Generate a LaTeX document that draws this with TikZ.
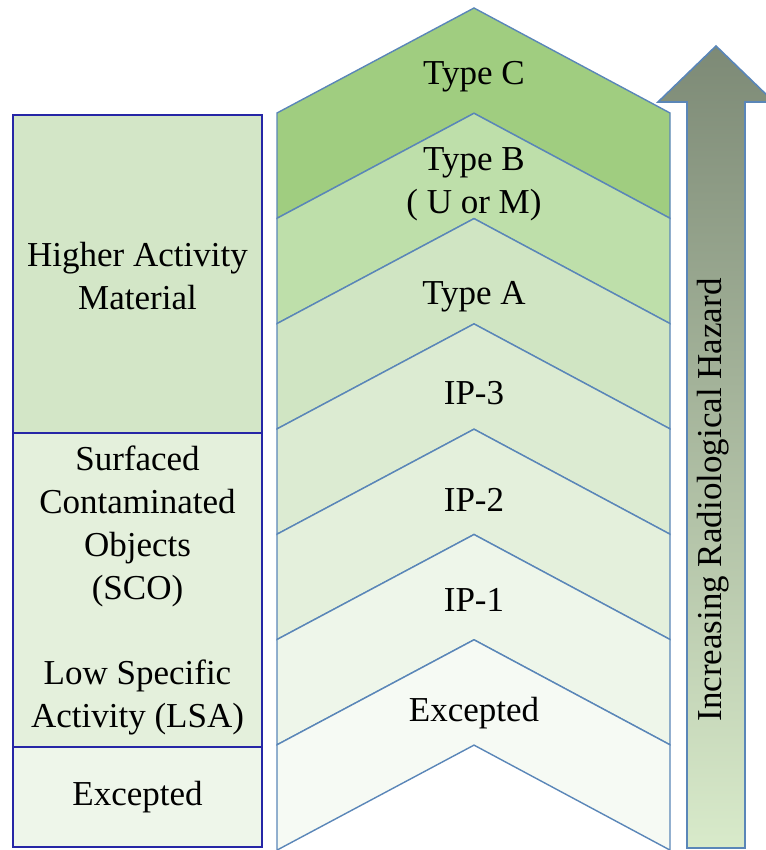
\documentclass[tikz,border=0pt]{standalone}
\usepackage{fontspec}
\setmainfont{Liberation Serif}
\newfontfamily\labelfont{Liberation Serif}
\usetikzlibrary{positioning}

\definecolor{edgeblue}{HTML}{5A86B8}
\definecolor{boxblue}{HTML}{2626A6}
\definecolor{lvlC}{HTML}{A0CD80}
\definecolor{lvlB}{HTML}{BEDFAA}
\definecolor{lvlA}{HTML}{D0E5C3}
\definecolor{lvlIPiii}{HTML}{DCEBD2}
\definecolor{lvlIPii}{HTML}{E4F0DC}
\definecolor{lvlIPi}{HTML}{EEF6EA}
\definecolor{lvlEx}{HTML}{F6FAF4}
\definecolor{arrowtop}{HTML}{7D8A76}
\definecolor{arrowbot}{HTML}{D8EACA}

\tikzset{
  label text/.style={font=\labelfont\fontsize{17.5}{21.5}\selectfont, align=center, inner sep=0pt},
  matbox/.style={draw=boxblue, line width=0.6pt},
  chevron/.style={draw=edgeblue, line width=0.7pt, line join=miter}
}

\begin{document}
\begin{tikzpicture}[x=0.5pt, y=-0.5pt]
    \useasboundingbox (0,0) rectangle (765,850);

    % Chevron geometry
    \def\xl{277}
    \def\xr{670}
    \def\xm{474}
    \def\rise{105}
    \def\stepy{105.3}

    % Package levels, from the top
    \foreach \k/\col in {0/lvlC, 1/lvlB, 2/lvlA, 3/lvlIPiii, 4/lvlIPii, 5/lvlIPi, 6/lvlEx} {
        \pgfmathsetmacro{\ya}{8+\k*\stepy}
        \pgfmathsetmacro{\yb}{8+(\k+1)*\stepy}
        \draw[chevron, fill=\col] (\xl,\ya+\rise) -- (\xm,\ya) -- (\xr,\ya+\rise)
            -- (\xr,\yb+\rise) -- (\xm,\yb) -- (\xl,\yb+\rise) -- cycle;
    }

    % Package labels
    \node[label text] (typeC) at (\xm,77) {Type C};
    \node[label text] (typeB) at (\xm,184) {Type B\\( U or M)};
    \node[label text] (typeA) at (\xm,297) {Type A};
    \node[label text] (ipiii) at (\xm,393) {IP-3};
    \node[label text] (ipii) at (\xm,500) {IP-2};
    \node[label text] (ipi) at (\xm,600) {IP-1};
    \node[label text] (pkgex) at (\xm,713) {Excepted};

    % Material column on the left
    \draw[matbox, fill=lvlA!75!lvlIPiii] (13,115) rectangle (262,433);
    \draw[matbox, fill=lvlIPii] (13,433) rectangle (262,747);
    \draw[matbox, fill=lvlIPi] (13,747) rectangle (262,847);

    \node[label text] (hamat) at (137.5,276) {Higher Activity\\Material};
    \node[label text] (scolsa) at (137.5,590)
        {Surfaced\\Contaminated\\Objects\\(SCO)\\[21pt]Low Specific\\Activity (LSA)};
    \node[label text] (matex) at (137.5,797) {Excepted};

    % Hazard arrow
    \draw[edgeblue, line width=0.8pt, top color=arrowtop, bottom color=arrowbot]
        (687,848) -- (687,102) -- (658,102) -- (716,46) -- (774,102)
        -- (745,102) -- (745,848) -- cycle;
    \node[label text, rotate=90] (hazard) at (713,500) {Increasing Radiological Hazard};
\end{tikzpicture}
\end{document}
